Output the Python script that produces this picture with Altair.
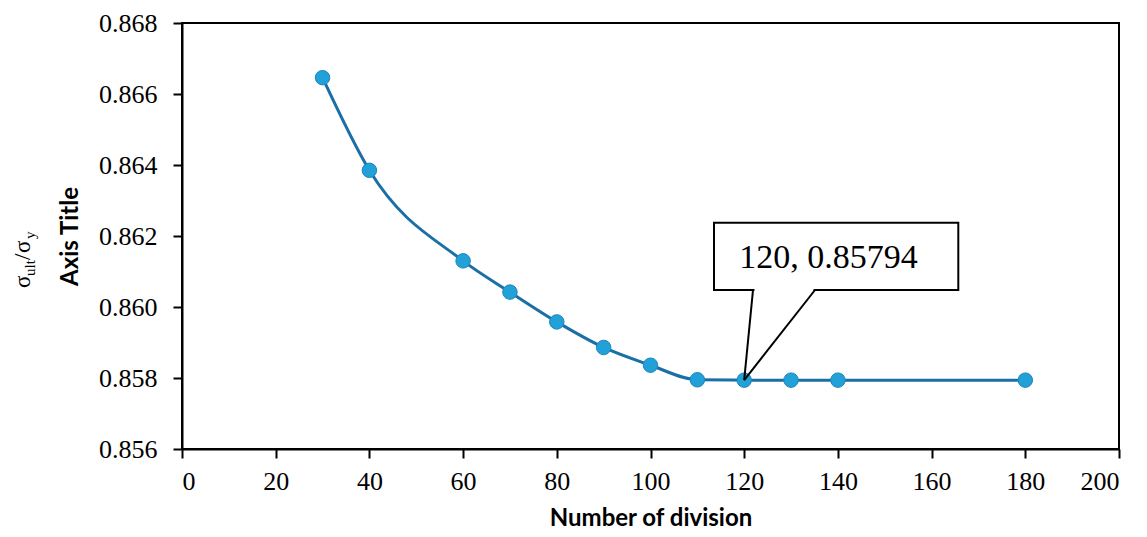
import altair as alt
import pandas as pd

# ---- data ----
divisions = [30, 40, 60, 70, 80, 90, 100, 110, 120, 130, 140, 180]
ratio = [0.86646, 0.86385, 0.86130, 0.86042, 0.85958, 0.85886, 0.85836,
         0.85795, 0.85794, 0.85794, 0.85794, 0.85794]
x_ticks = [0, 20, 40, 60, 80, 100, 120, 140, 160, 180, 200]
y_ticks = [0.856, 0.858, 0.860, 0.862, 0.864, 0.866, 0.868]
callout_x = [120]
callout_y = [0.85794]

df = pd.DataFrame({"n": divisions, "r": ratio})
cdf = pd.DataFrame({"n": callout_x, "r": callout_y})
cdf["label"] = cdf["n"].astype(str) + ", " + cdf["r"].map(lambda v: f"{v:.5f}")

SERIF = "Liberation Serif"
SANS = "Lato"
LINE = "#1a6fa6"
MARK = "#22a0d8"

xs = alt.Scale(domain=[0, 200], nice=False, zero=False)
ys = alt.Scale(domain=[0.856, 0.868], nice=False, zero=False)

common = dict(grid=False, domainColor="black", domainWidth=2, tickColor="black",
              tickWidth=2, tickSize=9, labelFont=SERIF, labelFontSize=26,
              labelColor="black", titleFont=SANS, titleFontSize=24,
              titleFontWeight="bold", titleColor="black")

x_enc = alt.X("n:Q", scale=xs, axis=alt.Axis(
    values=x_ticks, format="d", title="Number of division",
    titleY=76, titleBaseline="alphabetic", titleAnchor="middle",
    labelPadding=10, **common))
y_enc = alt.Y("r:Q", scale=ys, axis=alt.Axis(
    values=y_ticks, format=".3f", title="Axis Title",
    titleAngle=270, titleX=-105, titleY=213, titleBaseline="alphabetic",
    titleAlign="center", labelPadding=16, **common))

line = alt.Chart(df).mark_line(color=LINE, strokeWidth=3, interpolate="monotone").encode(
    x=x_enc, y=y_enc)
points = alt.Chart(df).mark_point(filled=True, size=210, color=MARK, opacity=1,
                                  stroke="#1b86bf", strokeWidth=1).encode(
    x=alt.X("n:Q", scale=xs), y=alt.Y("r:Q", scale=ys))

box = alt.Chart(cdf).mark_rect(fill="white", stroke="black", strokeWidth=2).encode(
    x=alt.value(532), x2=alt.value(776.3), y=alt.value(199.7), y2=alt.value(267))
gap = alt.Chart(cdf).mark_rule(color="white", strokeWidth=4).encode(
    x=alt.value(572.5), x2=alt.value(631.5), y=alt.value(267), y2=alt.value(267))
ptr1 = alt.Chart(cdf).mark_rule(color="black", strokeWidth=2).encode(
    x=alt.X("n:Q", scale=xs), y=alt.Y("r:Q", scale=ys),
    x2=alt.value(571), y2=alt.value(267))
ptr2 = alt.Chart(cdf).mark_rule(color="black", strokeWidth=2).encode(
    x=alt.X("n:Q", scale=xs), y=alt.Y("r:Q", scale=ys),
    x2=alt.value(633), y2=alt.value(267))
ctext = alt.Chart(cdf).mark_text(font=SERIF, fontSize=34, color="black",
                                 align="center", baseline="alphabetic").encode(
    x=alt.value(646.5), y=alt.value(244.5), text="label:N")

def piece(txt, size, px, py):
    return alt.Chart(cdf).mark_text(font=SERIF, fontSize=size, color="black",
                                    angle=270, align="left", baseline="alphabetic").encode(
        x=alt.value(px), y=alt.value(py), text=alt.value(txt))

sig = (piece("σ", 23, -152, 265) + piece("ult", 15, -147, 253) + piece("/", 23, -152, 237)
       + piece("σ", 23, -152, 230) + piece("y", 15, -147, 216))

chart = alt.layer(line, points, box, gap, ptr1, ptr2, ctext, sig).properties(
    width=937, height=426,
    autosize=alt.AutoSizeParams(type="none"),
    padding={"left": 174, "top": 15, "right": 20, "bottom": 80},
).configure_view(stroke="black", strokeWidth=2)

chart.save("out.html", embed_options={"renderer": "svg", "actions": False})
